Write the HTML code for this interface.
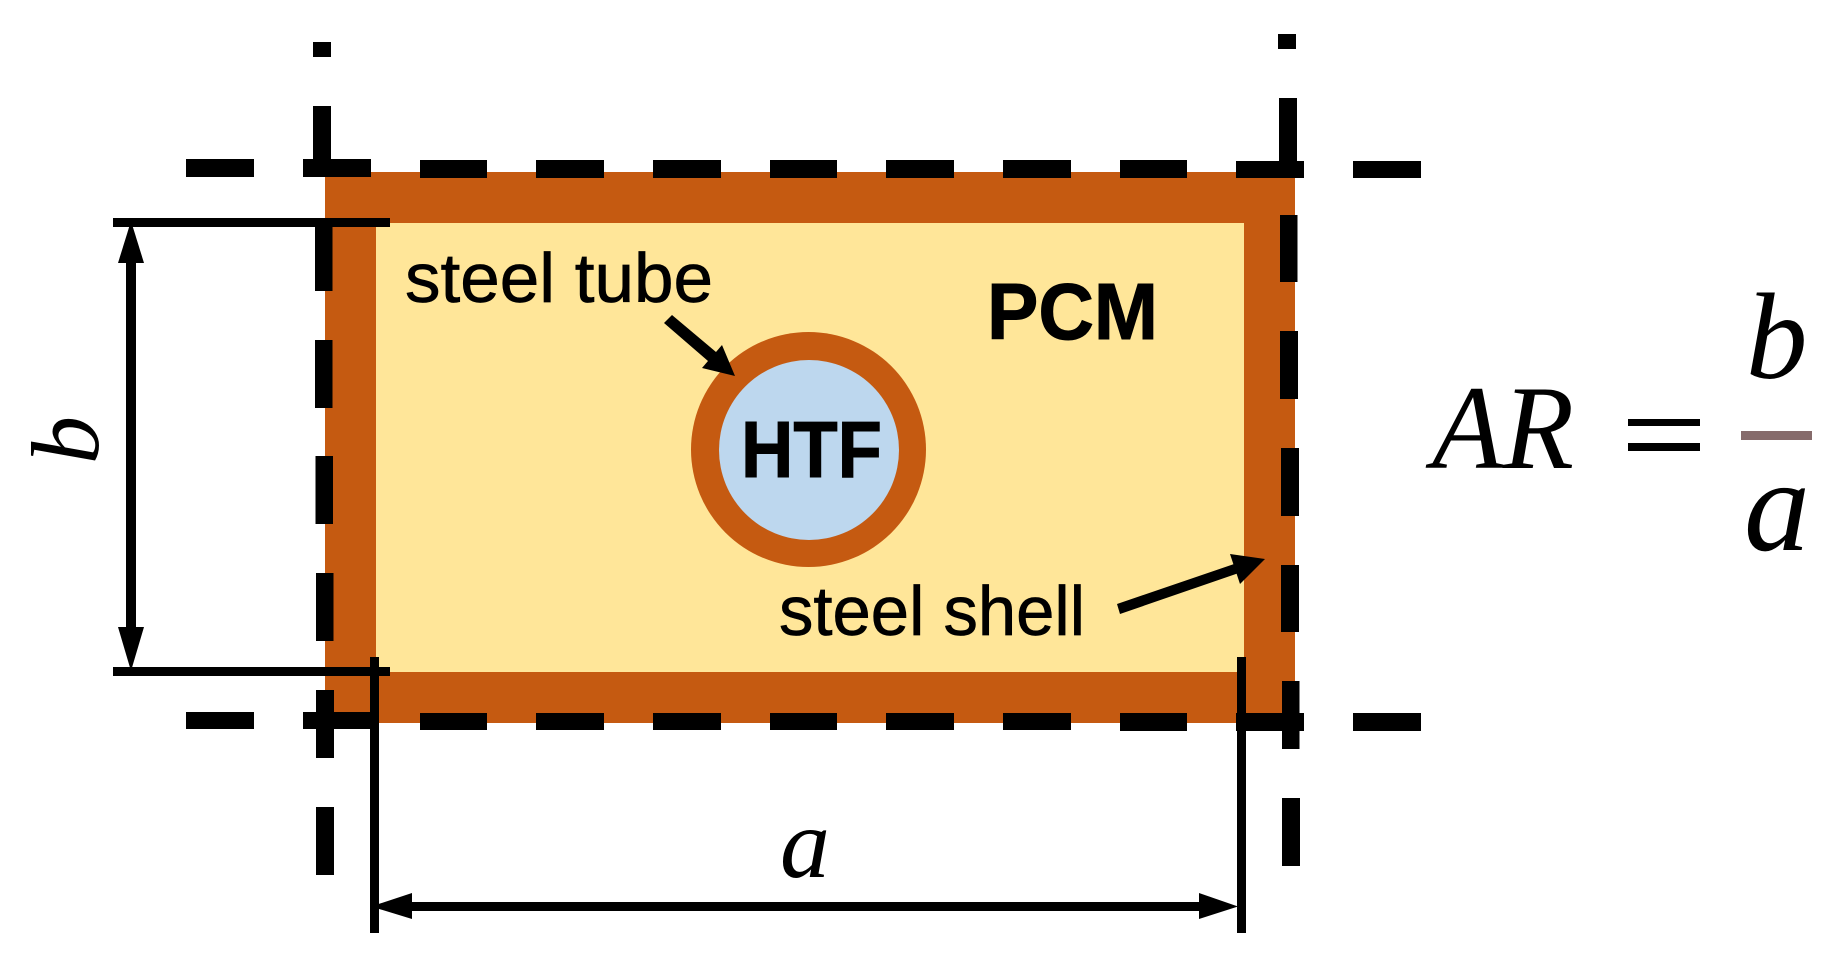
<!DOCTYPE html>
<html><head><meta charset="utf-8"><style>html,body{margin:0;padding:0;background:#fff}svg{display:block}</style></head>
<body>
<svg width="1844" height="968" viewBox="0 0 1844 968" xmlns="http://www.w3.org/2000/svg">
<rect width="1844" height="968" fill="#fff"/>
<rect x="325" y="172" width="970" height="551" fill="#C55A11"/>
<rect x="376" y="223" width="868" height="449" fill="#FFE699"/>
<circle cx="808.5" cy="449.5" r="117.5" fill="#C55A11"/>
<circle cx="809" cy="450" r="90" fill="#BDD7EE"/>
<g fill="#000">
<!-- top dashes -->
<rect x="186" y="159" width="68" height="18"/><rect x="303" y="159" width="68" height="18"/>
<rect x="420" y="160" width="67" height="18"/><rect x="536" y="160" width="68" height="18"/>
<rect x="653" y="160" width="68" height="18"/><rect x="770" y="160" width="67" height="18"/>
<rect x="886" y="160" width="68" height="18"/><rect x="1003" y="160" width="68" height="18"/>
<rect x="1120" y="160" width="67" height="18"/><rect x="1236" y="161" width="68" height="17"/>
<rect x="1353" y="161" width="68" height="17"/>
<!-- bottom dashes -->
<rect x="186" y="712" width="68" height="17"/><rect x="303" y="712" width="68" height="17"/>
<rect x="420" y="713" width="67" height="17"/><rect x="536" y="713" width="68" height="17"/>
<rect x="653" y="713" width="68" height="17"/><rect x="770" y="713" width="67" height="17"/>
<rect x="886" y="713" width="68" height="17"/><rect x="1003" y="713" width="68" height="17"/>
<rect x="1120" y="713" width="67" height="18"/><rect x="1236" y="713" width="68" height="18"/>
<rect x="1353" y="713" width="68" height="18"/>
<!-- left vertical -->
<rect x="313" y="42" width="18" height="15"/><rect x="313" y="106" width="18" height="66"/>
<rect x="315" y="223" width="17.5" height="68"/><rect x="315" y="340" width="17.5" height="68"/>
<rect x="315.5" y="456" width="17.5" height="68"/><rect x="316" y="573" width="17.5" height="68"/>
<rect x="316" y="690" width="18" height="68"/><rect x="316" y="807" width="18" height="68"/>
<!-- right vertical -->
<rect x="1278" y="34" width="18" height="15"/><rect x="1279" y="98" width="18" height="68"/>
<rect x="1280" y="215" width="17.5" height="67"/><rect x="1280" y="331" width="18" height="68"/>
<rect x="1281" y="448" width="18" height="68"/><rect x="1281" y="565" width="18" height="67"/>
<rect x="1282" y="681" width="17.5" height="68"/><rect x="1282" y="798" width="18" height="68"/>
<!-- b dimension -->
<rect x="113" y="218" width="277" height="9"/><rect x="113" y="667" width="277" height="9"/>
<rect x="126" y="260" width="10" height="370"/>
<polygon points="131,221 144,263 118,263"/><polygon points="131,671 144,627 118,627"/>
<!-- a dimension -->
<rect x="370" y="657" width="9" height="276"/><rect x="1237" y="657" width="9" height="276"/>
<rect x="410" y="902" width="792" height="9"/>
<polygon points="371,906.5 412,893 412,919"/><polygon points="1238,906.5 1199,893 1199,919"/>
<!-- pointers -->
<polygon points="672,315 716,352 722,345 735,376 702,368 708,361 664,323"/>
<polygon points="1117,604 1233.4,564.3 1230,554 1265,559 1240,584 1236.6,573.7 1120,614"/>
<!-- equation -->
<rect x="1628" y="419" width="72" height="7"/><rect x="1628" y="443" width="72" height="8"/>
</g>
<rect x="1741" y="431" width="71" height="9" fill="#866B6B"/>
<g font-family="'Liberation Sans',sans-serif" fill="#000">
<text x="405" y="302" font-size="70" stroke="#000" stroke-width="0.7" textLength="308" lengthAdjust="spacingAndGlyphs">steel tube</text>
<text x="779" y="635" font-size="70" stroke="#000" stroke-width="0.7" textLength="306" lengthAdjust="spacingAndGlyphs">steel shell</text>
<text x="987" y="339" font-size="80" font-weight="700" stroke="#000" stroke-width="1" textLength="171" lengthAdjust="spacingAndGlyphs">PCM</text>
<text x="741" y="477" font-size="80" font-weight="700" stroke="#000" stroke-width="1" textLength="141" lengthAdjust="spacingAndGlyphs">HTF</text>
</g>
<g font-family="'Liberation Serif',serif" font-style="italic" fill="#000">
<text x="1432" y="468" font-size="120" textLength="142" lengthAdjust="spacingAndGlyphs">AR</text>
<text x="1746" y="378" font-size="123">b</text>
<text x="1744" y="550" font-size="132">a</text>
<text x="780" y="877" font-size="100">a</text>
<text transform="translate(98,464) rotate(-90)" font-size="96">b</text>
</g>
</svg>
</body></html>
